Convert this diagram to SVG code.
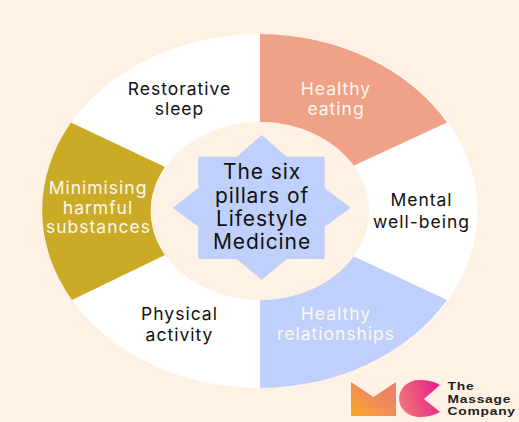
<svg xmlns="http://www.w3.org/2000/svg" width="519" height="422" viewBox="0 0 519 422">
<defs>
<style>
text{font-family:"Inter","Liberation Sans",sans-serif;text-anchor:middle}
.l{font-size:17.5px;letter-spacing:1px;fill:#111}
.w{font-size:17.5px;letter-spacing:1px;fill:#fdf8ee}
.c{font-size:21px;letter-spacing:.9px;fill:#111}
.b{font-family:"Liberation Sans",sans-serif;font-size:10.8px;font-weight:700;letter-spacing:.6px;fill:#222;text-anchor:start}
</style>
<linearGradient id="gm" x1="0" y1="1" x2="1" y2="0"><stop offset="0" stop-color="#f9a91c"/><stop offset=".55" stop-color="#f08a5c"/><stop offset="1" stop-color="#ef7a6c"/></linearGradient>
<linearGradient id="gc" x1="0" y1="0.6" x2="1" y2="0.3"><stop offset="0" stop-color="#ee7676"/><stop offset="1" stop-color="#e8208c"/></linearGradient>
</defs>
<rect width="519" height="422" fill="#fff1e4"/>
<g id="ring"><ellipse cx="260" cy="211" rx="217.500" ry="177" fill="#fff"/></g>
<g id="node-eating"><path d="M260 34A217.500 177 0 0 1 447 122.500L353 166A109 89 0 0 0 260 122Z" fill="#f0a288"/><text class="w" x="336" y="95">Healthy</text><text class="w" x="336" y="115">eating</text></g>
<g id="node-wellbeing"><text class="l" x="421.500" y="206">Mental</text><text class="l" x="421.500" y="228">well-being</text></g>
<g id="node-relationships"><path d="M260 388A217.500 177 0 0 0 447 300L353 256A109 89 0 0 1 260 300Z" fill="#bfd0fd"/><text class="w" x="336" y="320">Healthy</text><text class="w" x="336" y="340">relationships</text></g>
<g id="node-activity"><text class="l" x="179.500" y="320">Physical</text><text class="l" x="179.500" y="341">activity</text></g>
<g id="node-substances"><path d="M71 122.500A217.500 177 0 0 0 72 300L165 255A109 89 0 0 1 165 167Z" fill="#cbab25"/><text class="w" x="98" y="194">Minimising</text><text class="w" x="98" y="214">harmful</text><text class="w" x="98.500" y="233">substances</text></g>
<g id="node-sleep"><text class="l" x="179.500" y="95">Restorative</text><text class="l" x="179.500" y="115">sleep</text></g>
<g id="node-centre"><ellipse cx="260" cy="211" rx="109" ry="89" fill="#fff1e4"/><path d="M261.700 135L286.700 156.700H324.700V188L350.700 207.700L324.700 226.700V259H286.700L261.700 280L236.700 259H198.300V226.700L172.700 207.700L198.300 188V156.700H236.700Z" fill="#bfd0fd"/><text class="c" x="262" y="179">The six</text><text class="c" x="262" y="203">pillars of</text><text class="c" x="262" y="226">Lifestyle</text><text class="c" x="262" y="249">Medicine</text></g>
<g id="node-logo"><path d="M351 382L373.500 397L396 382V416H351Z" fill="url(#gm)"/><path d="M440 385Q432 380 419 380A20 18.500 0 0 0 419 417Q432 417 440 412L424 399Z" fill="url(#gc)"/><g transform="translate(447.500 0) scale(1.28 1)"><text class="b" x="0" y="390">The</text><text class="b" x="0" y="403">Massage</text><text class="b" x="0" y="415.500">Company</text></g></g>
</svg>
